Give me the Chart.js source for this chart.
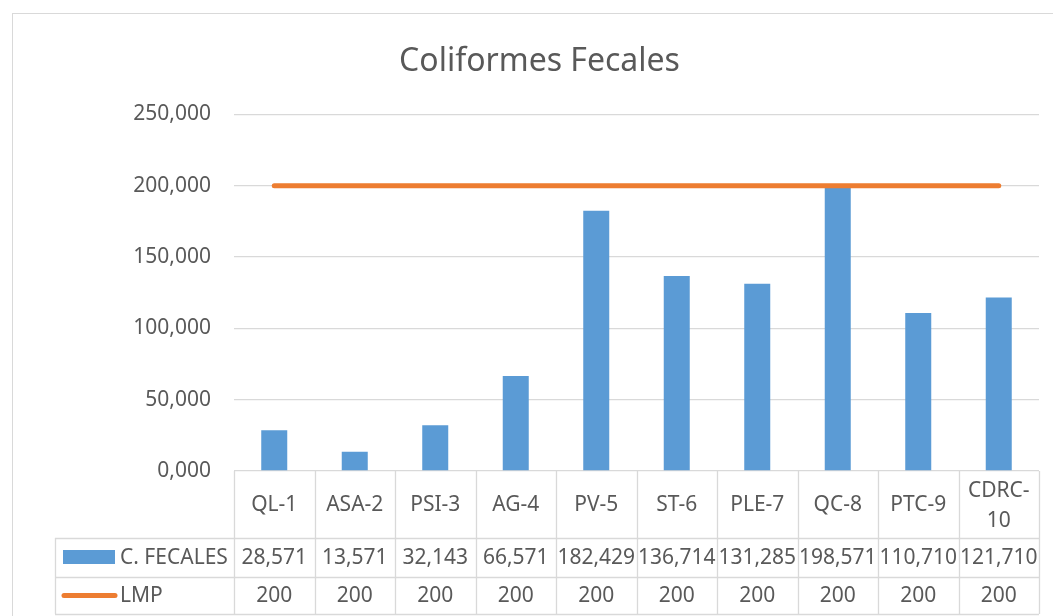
<!DOCTYPE html>
<html>
<head>
<meta charset="utf-8">
<script src="https://cdn.jsdelivr.net/npm/chart.js@4"></script>
<style>
  html, body { margin: 0; padding: 0; background: #ffffff; }
  #wrap { width: 1053px; height: 616px; position: relative; }
</style>
</head>
<body>
<div id="wrap"><canvas id="c" width="1053" height="616"></canvas></div>
<script>
const chartTitle = 'Coliformes Fecales';
const categories = ['QL-1', 'ASA-2', 'PSI-3', 'AG-4', 'PV-5', 'ST-6', 'PLE-7', 'QC-8', 'PTC-9', 'CDRC-10'];
const fecalesLabel = 'C. FECALES';
const fecales = [28.571, 13.571, 32.143, 66.571, 182.429, 136.714, 131.285, 198.571, 110.710, 121.710];
const lmpLabel = 'LMP';
const lmp = [200, 200, 200, 200, 200, 200, 200, 200, 200, 200];
const yMin = 0, yMax = 250, yStep = 50;

const FONT = '"Noto Sans", sans-serif';
const TEXT = '#595959';
const GRID = '#D9D9D9';
const BLUE = '#5B9BD5';
const ORANGE = '#ED7D31';

function fmt3(v) { return v.toFixed(3).replace('.', ','); }

const tablePlugin = {
  id: 'dataTable',
  afterDraw(chart) {
    const ctx = chart.ctx;
    const area = chart.chartArea;
    const n = categories.length;
    const colW = (area.right - area.left) / n;
    const top = area.bottom;
    const r1 = 538, r2 = 577, r3 = 614;
    const legLeft = 55;
    ctx.save();
    // outer chart border
    ctx.strokeStyle = GRID;
    ctx.lineWidth = 1;
    ctx.strokeRect(12.5, 13.5, 1200, 800);
    // table grid
    ctx.beginPath();
    for (let i = 0; i <= n; i++) {
      const x = Math.round(area.left + i * colW) + 0.5;
      ctx.moveTo(x, top);
      ctx.lineTo(x, r3);
    }
    [r1, r2, r3].forEach(y => {
      ctx.moveTo(legLeft, y + 0.5);
      ctx.lineTo(area.right, y + 0.5);
    });
    ctx.moveTo(legLeft + 0.5, r1);
    ctx.lineTo(legLeft + 0.5, r3);
    ctx.strokeStyle = GRID;
    ctx.lineWidth = 1.3;
    ctx.stroke();

    ctx.fillStyle = TEXT;
    ctx.font = '21px ' + FONT;
    ctx.textAlign = 'center';
    ctx.textBaseline = 'middle';
    const catMid = (top + r1) / 2 + 1;
    for (let i = 0; i < n; i++) {
      const cx = chart.scales.x.getPixelForValue(i);
      const label = categories[i];
      if (ctx.measureText(label).width > colW - 6 && label.indexOf('-') >= 0) {
        const k = label.indexOf('-') + 1;
        ctx.fillText(label.slice(0, k), cx, catMid - 14);
        ctx.fillText(label.slice(k), cx, catMid + 16);
      } else {
        ctx.fillText(label, cx, catMid);
      }
      ctx.fillText(fmt3(fecales[i]), cx, (r1 + r2) / 2 + 1);
      ctx.fillText(String(lmp[i]), cx, (r2 + r3) / 2 + 1);
    }
    // legend keys
    ctx.fillStyle = BLUE;
    ctx.fillRect(63, 550, 52, 14);
    ctx.strokeStyle = ORANGE;
    ctx.lineWidth = 5;
    ctx.lineCap = 'round';
    ctx.beginPath();
    ctx.moveTo(64, 595.5);
    ctx.lineTo(115, 595.5);
    ctx.stroke();
    ctx.fillStyle = TEXT;
    ctx.textAlign = 'left';
    ctx.fillText(fecalesLabel, 120, (r1 + r2) / 2 + 1);
    ctx.fillText(lmpLabel, 120, (r2 + r3) / 2 + 1);
    ctx.restore();
  }
};

new Chart(document.getElementById('c'), {
  type: 'bar',
  data: {
    labels: categories,
    datasets: [
      {
        type: 'line',
        label: lmpLabel,
        data: lmp,
        borderColor: ORANGE,
        backgroundColor: ORANGE,
        borderWidth: 5,
        borderCapStyle: 'round',
        pointRadius: 0,
        pointHoverRadius: 0,
        fill: false,
        tension: 0,
        order: 0
      },
      {
        type: 'bar',
        label: fecalesLabel,
        data: fecales,
        backgroundColor: BLUE,
        borderWidth: 0,
        barPercentage: 1,
        categoryPercentage: 0.323,
        order: 1
      }
    ]
  },
  options: {
    responsive: false,
    animation: false,
    events: [],
    layout: { padding: { left: 40, right: 14, top: 0, bottom: 145 } },
    plugins: {
      legend: { display: false },
      tooltip: { enabled: false },
      title: {
        display: true,
        text: chartTitle,
        color: TEXT,
        font: { family: FONT, size: 32, weight: 'normal' },
        padding: { top: 43, bottom: 33 }
      }
    },
    scales: {
      x: {
        display: false,
        offset: true
      },
      y: {
        min: yMin,
        max: yMax,
        ticks: {
          stepSize: yStep,
          color: TEXT,
          font: { family: FONT, size: 21 },
          padding: 23,
          callback: v => fmt3(v)
        },
        grid: { color: GRID, lineWidth: 1.3, drawTicks: false },
        border: { display: false },
        afterFit: s => { s.width = 194; }
      }
    }
  },
  plugins: [tablePlugin]
});
</script>
</body>
</html>
